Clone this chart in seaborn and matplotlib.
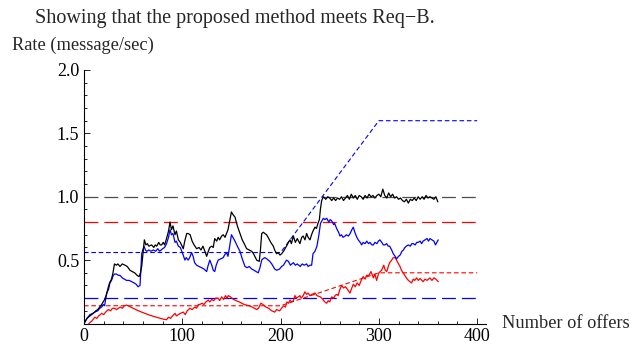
import numpy as np
import pandas as pd
import matplotlib
matplotlib.use('Agg')
import matplotlib.pyplot as plt
import seaborn as sns
from matplotlib.ticker import MultipleLocator, FixedLocator, FixedFormatter

# --- data ---
black_x = [0, 3, 6, 9.5, 12, 14, 16, 18, 21, 23, 24.5, 26, 28, 29.5, 31, 33, 34.5, 36.6, 39, 41.7,
           44, 46.8, 49, 51.5, 54, 56, 57.5, 58.7, 60, 61.4, 63, 64.5, 66, 68.8, 71, 72.5, 74, 76,
           77.5, 79, 80.6, 82, 84, 86, 87.5, 89, 90.5, 92.6, 94, 96, 98, 101, 102.5, 104.5, 106,
           108, 110, 112, 114.6, 117, 119, 121, 123, 124.8, 126.5, 128, 130, 131.5, 133, 135,
           136.5, 138, 140, 141.7, 143.5, 145, 146.5, 148, 150, 151.5, 153.6, 156, 158.7, 161,
           163, 165.5, 168, 170.6, 172.5, 175.7, 178.3, 179.5, 180.8, 182.5, 184, 185.8, 188, 190,
           192.6, 194, 196, 197.5, 199.4, 201, 203, 206, 208, 209.6, 211, 213, 215, 217, 219.7,
           221.5, 223, 224.8, 226.5, 228, 229.9, 231.5, 233, 235, 236.5, 238, 239.5, 240.5, 241.8,
           243.5,
           246, 248, 250, 252, 254, 256, 258, 260, 262, 264, 266, 268, 270, 272, 274, 276, 278,
           280, 282, 284, 286, 288, 290, 292, 294, 296, 298, 300, 302, 304, 306, 308, 310, 312,
           314, 316, 318, 320, 322, 324, 326, 328, 330, 332, 334, 336, 338, 340, 342, 344, 346,
           348, 350, 352, 354, 356, 358, 360]
black_y = [0, 0.04, 0.06, 0.08, 0.10, 0.11, 0.13, 0.15, 0.19, 0.23, 0.28, 0.32, 0.35, 0.40, 0.47,
           0.46, 0.47, 0.45, 0.47, 0.46, 0.45, 0.42, 0.41, 0.40, 0.38, 0.37, 0.40, 0.45, 0.55, 0.66,
           0.62, 0.63, 0.61, 0.62, 0.60, 0.62, 0.61, 0.64, 0.62, 0.62, 0.64, 0.62, 0.67, 0.73, 0.80,
           0.74, 0.77, 0.70, 0.73, 0.66, 0.64, 0.59, 0.65, 0.71, 0.71, 0.70, 0.65, 0.62, 0.59, 0.60,
           0.58, 0.61, 0.57, 0.53, 0.57, 0.60, 0.61, 0.60, 0.67, 0.65, 0.68, 0.66, 0.69, 0.70, 0.68,
           0.71, 0.74, 0.80, 0.88, 0.86, 0.84, 0.77, 0.71, 0.66, 0.63, 0.59, 0.58, 0.57, 0.55, 0.50,
           0.49, 0.58, 0.71, 0.72, 0.71, 0.70, 0.67, 0.64, 0.61, 0.58, 0.55, 0.56, 0.54, 0.55, 0.57,
           0.61, 0.64, 0.66, 0.63, 0.69, 0.64, 0.67, 0.63, 0.68, 0.69, 0.66, 0.71, 0.68, 0.66, 0.70,
           0.73, 0.76, 0.75, 0.79, 0.82, 0.90, 0.97, 1.00,
           0.98, 1.00, 0.99, 0.97, 0.99, 0.97, 0.99, 0.98, 1.00, 0.97, 0.99, 1.01, 0.98, 1.02, 0.99,
           1.01, 0.98, 1.01, 1.00, 0.98, 1.01, 0.99, 1.02, 1.00, 1.01, 0.99, 1.01, 1.02, 1.00, 1.06,
           1.01, 0.99, 1.03, 1.00, 1.02, 0.99, 1.00, 0.98, 0.99, 0.97, 0.96, 0.98, 0.95, 0.98, 0.97,
           0.99, 0.97, 1.00, 0.98, 1.00, 0.98, 1.01, 0.99, 1.00, 0.99, 0.98, 1.00, 0.96]

blue_x = [0, 3, 6, 9, 11, 14, 16, 18, 19.6, 21, 23, 25, 26.4, 28, 29.8, 31, 33, 35, 36.6, 39, 41,
          43.4, 46, 48.5, 51, 53, 55, 57, 58.7, 61, 62.5, 63.8, 66, 68, 70.5, 73, 75, 77, 80, 82,
          84, 86, 87.5, 89, 90.5, 92.6, 94, 96, 98, 100, 102.7, 104, 106, 107.5, 109.5, 111, 112.5,
          114.6, 117, 119.7, 122, 124.8, 126, 128, 130, 131.5, 133, 134.5, 136.5, 139, 141.7, 143,
          145, 146.5, 148, 150, 151.5, 153.6, 156, 158.7, 161, 163.8, 166, 168, 170.6, 173, 175,
          177.3, 179, 180.8, 182, 184, 186, 189, 191, 194, 196, 199, 201, 203, 206, 208, 210, 213,
          215, 217, 220, 222, 224, 226.5, 228, 230, 231.6, 233, 235, 237, 239, 240.6, 242, 243.5,
          245, 247, 249, 250.5, 252, 254, 255, 257, 259, 260.4, 262, 263.5, 265.6, 267, 269, 270.8,
          272.5, 274, 275.5, 277.6, 279, 281, 282.5, 284, 286, 287.6, 289.5, 291, 292.8, 294.4,
          296, 298, 299.5, 301, 303, 304.5, 306, 308, 309.5, 311, 313, 314.7, 316.5, 318, 320,
          321.6, 323.5, 325, 326.5, 328, 330, 332, 333.5, 335, 337, 338.5, 340, 342, 343.5, 345,
          347, 349, 350.5, 352, 354, 356, 357.6, 359, 360.4]
blue_y = [0, 0.04, 0.07, 0.08, 0.09, 0.10, 0.12, 0.13, 0.15, 0.14, 0.24, 0.27, 0.32, 0.34, 0.38,
          0.39, 0.39, 0.38, 0.38, 0.36, 0.35, 0.34, 0.34, 0.33, 0.32, 0.31, 0.29, 0.30, 0.55, 0.61,
          0.58, 0.57, 0.58, 0.57, 0.58, 0.57, 0.59, 0.57, 0.59, 0.60, 0.63, 0.68, 0.74, 0.70, 0.71,
          0.64, 0.65, 0.61, 0.60, 0.56, 0.50, 0.52, 0.50, 0.52, 0.56, 0.53, 0.48, 0.46, 0.45, 0.44,
          0.43, 0.41, 0.45, 0.50, 0.46, 0.42, 0.41, 0.46, 0.50, 0.51, 0.52, 0.54, 0.56, 0.53, 0.60,
          0.70, 0.68, 0.65, 0.61, 0.57, 0.51, 0.45, 0.44, 0.45, 0.43, 0.42, 0.41, 0.40, 0.44, 0.50,
          0.51, 0.52, 0.51, 0.49, 0.47, 0.43, 0.42, 0.43, 0.45, 0.46, 0.50, 0.49, 0.46, 0.48, 0.46,
          0.47, 0.45, 0.47, 0.46, 0.47, 0.45, 0.46, 0.46, 0.55, 0.57, 0.61, 0.70, 0.79, 0.81, 0.83,
          0.82, 0.83, 0.80, 0.82, 0.81, 0.78, 0.79, 0.75, 0.72, 0.69, 0.70, 0.68, 0.69, 0.70, 0.69,
          0.71, 0.74, 0.76, 0.72, 0.68, 0.66, 0.64, 0.62, 0.64, 0.63, 0.65, 0.63, 0.64, 0.62, 0.62,
          0.64, 0.63, 0.65, 0.66, 0.64, 0.62, 0.62, 0.63, 0.61, 0.61, 0.58, 0.55, 0.53, 0.51, 0.53,
          0.54, 0.57, 0.58, 0.60, 0.61, 0.62, 0.61, 0.63, 0.63, 0.62, 0.64, 0.64, 0.65, 0.63, 0.65,
          0.66, 0.67, 0.65, 0.67, 0.66, 0.65, 0.62, 0.64, 0.66]

red_x = [5, 8, 11, 13, 15, 18, 20, 22, 24.8, 27, 29, 31.5, 33, 35, 37, 39, 41, 43.4, 46, 50, 54,
         58, 62, 66, 70, 74, 78, 82, 84, 86, 88, 90, 92.6, 94, 96, 98, 101, 103, 105, 107.8, 110,
         112.9, 114.5, 116.3, 118, 120, 122, 124, 126.5, 128, 130, 132, 134, 136.5, 138, 140, 142,
         144, 145.5, 146.8, 149, 152, 155, 158, 160.4, 163, 165.5, 168, 171, 173.5, 175.7, 177.5,
         180, 182, 185, 188, 191, 194, 196, 199, 201, 203, 205, 206.5, 208, 209.6, 211, 213, 214.6,
         216, 218, 219.7, 221, 223, 224.8, 226.5, 228, 229.9, 232, 235, 237, 240.5, 243, 245,
         246.9, 248.5, 250, 252, 254, 255.5, 257, 258.5, 260, 262, 264, 266, 268, 270.6, 272, 274,
         276, 278, 280, 282, 284, 286, 287.5, 290, 292, 294.4, 296, 297.7, 300, 302.8, 305, 306.5,
         308, 310, 311, 313, 314.7, 316.5, 318, 320, 321.5, 323, 325.5, 328, 330, 333.3, 335,
         336.5, 338.4, 340, 342, 345, 347, 349, 351.9, 354, 356, 358, 360.4]
red_y = [0.0, 0.02, 0.05, 0.04, 0.06, 0.08, 0.07, 0.09, 0.11, 0.10, 0.12, 0.12, 0.11, 0.12, 0.13,
         0.12, 0.14, 0.145, 0.135, 0.12, 0.105, 0.092, 0.08, 0.068, 0.058, 0.049, 0.04, 0.032,
         0.03, 0.05, 0.04, 0.06, 0.08, 0.06, 0.07, 0.08, 0.09, 0.07, 0.10, 0.12, 0.11, 0.13, 0.12,
         0.15, 0.15, 0.16, 0.15, 0.17, 0.185, 0.17, 0.19, 0.18, 0.20, 0.20, 0.18, 0.21, 0.19, 0.22,
         0.20, 0.22, 0.21, 0.19, 0.18, 0.17, 0.16, 0.15, 0.145, 0.14, 0.13, 0.12, 0.11, 0.12, 0.16,
         0.15, 0.13, 0.12, 0.10, 0.09, 0.11, 0.10, 0.12, 0.14, 0.13, 0.17, 0.16, 0.185, 0.17, 0.18,
         0.22, 0.20, 0.21, 0.22, 0.20, 0.22, 0.25, 0.23, 0.24, 0.22, 0.23, 0.24, 0.22, 0.21, 0.19,
         0.17, 0.16, 0.18, 0.17, 0.21, 0.20, 0.22, 0.23, 0.22, 0.26, 0.30, 0.28, 0.29, 0.27, 0.24,
         0.27, 0.31, 0.29, 0.32, 0.30, 0.34, 0.37, 0.35, 0.38, 0.38, 0.41, 0.36, 0.39, 0.34, 0.40,
         0.42, 0.46, 0.42, 0.41, 0.46, 0.48, 0.50, 0.52, 0.52, 0.50, 0.47, 0.45, 0.42, 0.39, 0.36,
         0.34, 0.32, 0.35, 0.34, 0.36, 0.34, 0.355, 0.33, 0.35, 0.34, 0.36, 0.34, 0.36, 0.35, 0.33]

# requirement levels (long dashes)
level_x = [0, 400]
black_level = [1.0, 1.0]
red_level = [0.8, 0.8]
blue_level = [0.2, 0.2]

# expected rates (short dashes)
exp_x = [0, 200, 300, 400]
blue_exp = [0.56, 0.56, 1.6, 1.6]
red_exp = [0.14, 0.14, 0.40, 0.40]

sns.set_theme(style='ticks')
plt.rcParams['font.family'] = ['Liberation Serif', 'DejaVu Serif']
plt.rcParams['lines.scale_dashes'] = False

fig = plt.figure(figsize=(6.42, 3.5), dpi=100)
ax = fig.add_axes([84 / 642, 26.5 / 350, 402 / 642, 253.5 / 350])

long_dash = (0, (10, 4.3))
short_dash = (0, (3.3, 2.0))

sns.lineplot(x=level_x, y=black_level, color='0.3', lw=0.9, ls=long_dash, ax=ax)
sns.lineplot(x=level_x, y=red_level, color='#ff0000', lw=0.9, ls=long_dash, ax=ax)
sns.lineplot(x=level_x, y=blue_level, color='#0000ff', lw=0.9, ls=long_dash, ax=ax)
sns.lineplot(x=exp_x, y=blue_exp, color='#0000ff', lw=0.8, ls=short_dash, ax=ax)
sns.lineplot(x=exp_x, y=red_exp, color='#ff0000', lw=0.8, ls=short_dash, ax=ax)

sns.lineplot(x=red_x, y=red_y, color='#ff0000', lw=0.9, estimator=None, sort=False, ax=ax)
sns.lineplot(x=blue_x, y=blue_y, color='#0000ff', lw=0.9, estimator=None, sort=False, ax=ax)
sns.lineplot(x=black_x, y=black_y, color='black', lw=0.9, estimator=None, sort=False, ax=ax)

ax.set_xlim(0, 409)
ax.set_ylim(0, 2.0)
sns.despine(ax=ax)
for s in ['left', 'bottom']:
    ax.spines[s].set_linewidth(0.8)
    ax.spines[s].set_color('black')

ax.xaxis.set_major_locator(MultipleLocator(100))
ax.xaxis.set_minor_locator(MultipleLocator(20))
ax.yaxis.set_major_locator(FixedLocator([0, 0.5, 1.0, 1.5, 2.0]))
ax.yaxis.set_major_formatter(FixedFormatter(['', '0.5', '1.0', '1.5', '2.0']))
ax.yaxis.set_minor_locator(MultipleLocator(0.1))
ax.tick_params(which='both', direction='in', color='black', width=0.6, labelsize=13,
               labelcolor='black')
ax.tick_params(which='major', length=4.5, pad=3.5)
ax.tick_params(which='minor', length=2.5)
ax.set_xlabel('')
ax.set_ylabel('')

fig.text(35 / 642, 1 - 18 / 350, 'Showing that the proposed method meets Req\u2212B.',
         fontsize=14.5, va='center', ha='left')
fig.text(12 / 642, 1 - 45 / 350, 'Rate (message/sec)', fontsize=13.2, va='center', ha='left')
fig.text(502 / 642, 1 - 323 / 350, 'Number of offers', fontsize=13.2, va='center', ha='left')

fig.savefig('out.png', dpi=100)
